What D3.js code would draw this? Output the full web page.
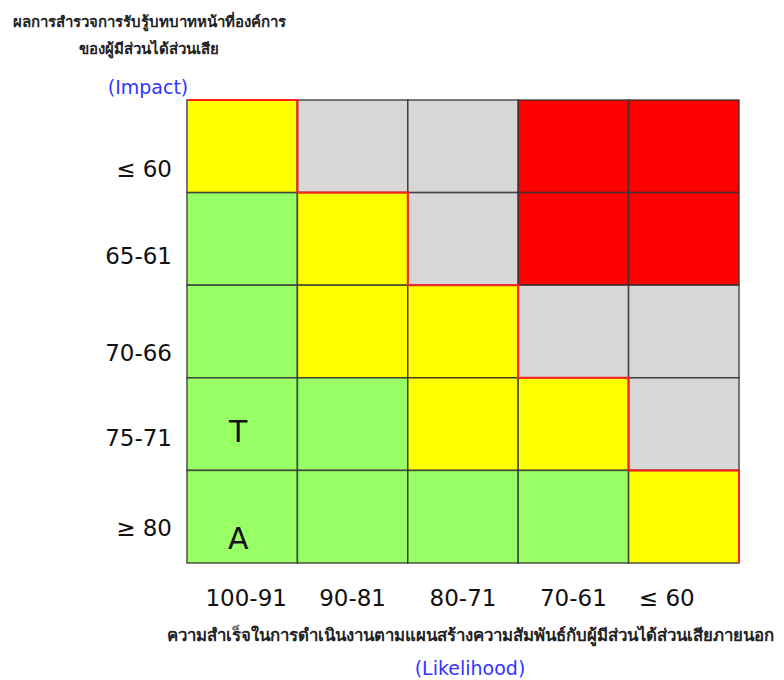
<!DOCTYPE html>
<html><head><meta charset="utf-8">
<script src="https://cdn.jsdelivr.net/npm/d3@7"></script>
<style>body{margin:0;background:#fff}svg{display:block}</style>
</head><body>
<script>
const impactLabels = ["≤ 60", "65-61", "70-66", "75-71", "≥ 80"];
const likelihoodLabels = ["100-91", "90-81", "80-71", "70-61", "≤ 60"];
// risk level per cell: rows = impact (top to bottom), cols = likelihood
const riskLevels = [
  ["Y","H","H","R","R"],
  ["G","Y","H","R","R"],
  ["G","Y","Y","H","H"],
  ["G","G","Y","Y","H"],
  ["G","G","G","G","Y"]
];
const cellMarks = [{row:3, col:0, text:"T"}, {row:4, col:0, text:"A"}];
const titleLines = ["ผลการสำรวจการรับรู้บทบาทหน้าที่องค์การ", "ของผู้มีส่วนได้ส่วนเสีย"];
const xTitle = "ความสำเร็จในการดำเนินงานตามแผนสร้างความสัมพันธ์กับผู้มีส่วนได้ส่วนเสียภายนอก";
const colors = {G:"#99ff66", Y:"#ffff00", H:"#d7d7d7", R:"#ff0000"};

const W = 784, H = 680;
const svg = d3.select("body").append("svg").attr("width", W).attr("height", H);
const x = d3.scaleBand().domain(d3.range(5)).range([187, 739]);
const y = d3.scaleBand().domain(d3.range(5)).range([100, 563]);

const cells = [];
riskLevels.forEach((r, i) => r.forEach((v, j) => cells.push({row:i, col:j, v})));
svg.append("g").selectAll("rect").data(cells).join("rect")
  .attr("x", d => x(d.col)).attr("y", d => y(d.row))
  .attr("width", x.bandwidth()).attr("height", y.bandwidth())
  .attr("fill", d => colors[d.v])
  .attr("stroke", "#333").attr("stroke-opacity", 0.8).attr("stroke-width", 1.6);

// red staircase boundary on top/right edges of yellow diagonal
const pts = [];
for (let i = 0; i < 5; i++) {
  const j = riskLevels[i].lastIndexOf("Y");
  pts.push([x(j), y(i)], [x(j) + x.bandwidth(), y(i)], [x(j) + x.bandwidth(), y(i) + y.bandwidth()]);
}
svg.append("path").attr("d", d3.line()(pts)).attr("fill", "none")
  .attr("stroke", "#ff2020").attr("stroke-width", 2);

const font = "'DejaVu Sans', Tahoma, sans-serif";
const markDy = [18, 32];
svg.append("g").selectAll("text").data(cellMarks).join("text")
  .attr("x", d => x(d.col) + x.bandwidth()/2 - 4)
  .attr("y", (d, i) => y(d.row) + y.bandwidth()/2 + markDy[i])
  .attr("text-anchor", "middle").attr("font-family", font).attr("font-size", 30)
  .attr("fill", "#111").text(d => d.text);

const labelDy = [31, 25, 29, 22, 19];
svg.append("g").selectAll("text").data(impactLabels).join("text")
  .attr("x", 172).attr("y", (d, i) => y(i) + y.bandwidth()/2 + labelDy[i])
  .attr("text-anchor", "end").attr("font-family", font).attr("font-size", 23)
  .attr("fill", "#111").text(d => d);

svg.append("g").selectAll("text").data(likelihoodLabels).join("text")
  .attr("x", (d, i) => x(i) + x.bandwidth()/2 + (i === 4 ? -17 : (i === 0 ? 4 : 0)))
  .attr("y", 606)
  .attr("text-anchor", "middle").attr("font-family", font).attr("font-size", 23)
  .attr("fill", "#111").text(d => d);

const thai = "Tahoma, 'Noto Sans', 'DejaVu Sans', sans-serif";
svg.append("g").selectAll("text").data(titleLines).join("text")
  .attr("x", 149).attr("y", (d, i) => 27 + i * 27)
  .attr("text-anchor", "middle").attr("font-family", thai).attr("font-size", 15)
  .attr("font-weight", "bold").attr("fill", "#222").text(d => d);

svg.append("text").attr("x", 148).attr("y", 94).attr("text-anchor", "middle")
  .attr("font-family", font).attr("font-size", 19).attr("fill", "#3333ff").text("(Impact)");

svg.append("text").attr("x", 470).attr("y", 641).attr("text-anchor", "middle")
  .attr("font-family", thai).attr("font-size", 16.8).attr("font-weight", "bold")
  .attr("fill", "#222").text(xTitle);

svg.append("text").attr("x", 470).attr("y", 675).attr("text-anchor", "middle")
  .attr("font-family", font).attr("font-size", 19).attr("fill", "#3333ff").text("(Likelihood)");
</script>
</body></html>
